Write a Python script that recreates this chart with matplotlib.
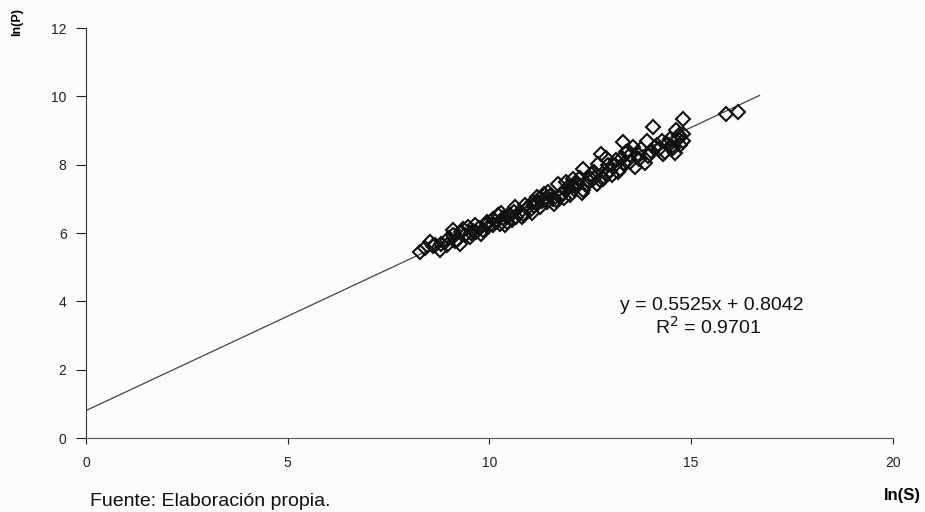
import matplotlib
matplotlib.use("Agg")
import matplotlib.pyplot as plt
import numpy as np

# ln(S), ln(P) pairs
ln_s = [8.28, 8.53, 8.77, 8.65, 8.94, 9.10, 9.31, 9.27, 9.52, 9.68, 9.48, 9.85, 9.93,
        10.09, 10.22, 10.26, 10.43, 10.51, 10.63, 10.67, 10.84, 10.88, 11.00, 11.09,
        11.17, 11.25, 11.42, 11.46, 11.58, 11.71, 11.75, 11.87, 12.00, 12.08, 12.20,
        12.33, 12.33, 12.45, 12.53, 12.66, 12.70, 12.78, 12.82, 12.95, 13.03, 13.15,
        13.23, 13.32, 13.40, 13.48, 13.56, 13.61, 13.69, 13.77, 13.90, 13.94, 14.06,
        14.10, 14.27, 14.31, 14.47, 14.51, 14.64, 14.68, 14.79, 14.80, 14.72, 15.88,
        16.17,
        8.40, 8.80, 9.00, 9.20, 9.40, 9.60, 9.75, 10.00, 10.10, 10.35, 10.55, 10.75,
        10.95, 11.10, 11.30, 11.50, 11.65, 11.80, 11.95, 12.10, 12.25, 12.40, 12.60,
        12.90, 13.10, 13.30, 13.50, 13.85, 14.00, 14.20, 14.40, 14.60, 14.80, 9.10,
        10.30, 11.35, 12.15, 12.90,
        8.60, 8.95, 9.15, 9.35, 9.55, 9.80, 9.95, 10.15, 10.40, 10.60, 10.80, 11.05,
        11.20, 11.40, 11.60, 11.85, 12.05, 12.30, 12.50, 12.75, 13.00, 13.20, 13.45,
        13.70, 14.15, 14.35, 14.55, 14.70, 9.65, 10.45, 11.15, 11.90, 12.60, 13.35]
ln_p = [5.45, 5.74, 5.50, 5.64, 5.79, 5.94, 6.03, 5.69, 5.89, 6.03, 6.18, 6.08, 6.33,
        6.23, 6.52, 6.28, 6.33, 6.52, 6.76, 6.47, 6.57, 6.81, 6.67, 6.91,
        7.06, 6.76, 6.91, 7.20, 7.01, 7.45, 7.06, 7.25, 7.11, 7.59, 7.45,
        7.89, 7.25, 7.54, 7.74, 7.45, 8.03, 8.32, 7.59, 7.98, 7.69, 8.13,
        7.89, 8.66, 8.37, 8.08, 8.52, 7.93, 8.32, 8.47, 8.71, 8.27, 9.10,
        8.52, 8.71, 8.32, 8.76, 8.52, 9.01, 8.76, 9.35, 8.91, 8.57, 9.49,
        9.54,
        5.55, 5.68, 5.85, 5.80, 5.95, 6.05, 6.15, 6.20, 6.40, 6.45, 6.38, 6.62,
        6.75, 6.80, 6.95, 7.10, 6.98, 7.15, 7.35, 7.30, 7.62, 7.40, 7.80,
        7.72, 7.95, 8.20, 8.30, 8.05, 8.40, 8.45, 8.62, 8.35, 8.70, 6.10,
        6.60, 7.15, 7.45, 8.20,
        5.62, 5.66, 5.78, 6.12, 6.00, 5.98, 6.28, 6.35, 6.25, 6.62, 6.48, 6.58,
        6.88, 7.02, 6.86, 7.02, 7.38, 7.18, 7.62, 7.55, 7.82, 7.78, 8.40,
        8.18, 8.58, 8.38, 8.48, 8.88, 6.25, 6.50, 6.92, 7.50, 7.62, 8.05]

slope = 0.5525
intercept = 0.8042
r2 = 0.9701
fit_x = [0, 16.7]

plt.rcParams['font.family'] = ['Liberation Sans', 'DejaVu Sans']

fig = plt.figure(figsize=(9.25, 5.12), dpi=100)
fig.patch.set_facecolor('#fbfbfb')
ax = fig.add_axes([0.093, 0.1445, 0.872, 0.8005])
ax.set_facecolor('#fbfbfb')

fx = np.array(fit_x)
ax.plot(fx, slope * fx + intercept, color='#444444', lw=0.9, zorder=1)
ax.plot(ln_s, ln_p, linestyle='none', marker='D', markersize=7.2,
        markerfacecolor='none', markeredgecolor='#111111', markeredgewidth=1.5, zorder=2)

ax.set_xlim(0, 20)
ax.set_ylim(0, 12)
ax.set_xticks([0, 5, 10, 15, 20])
ax.set_yticks([0, 2, 4, 6, 8, 10, 12])
ax.spines['top'].set_visible(False)
ax.spines['right'].set_visible(False)
ax.spines['left'].set_color('#333333')
ax.spines['bottom'].set_color('#555555')
ax.tick_params(axis='y', direction='out', length=7, width=0.8, labelsize=10, pad=7, colors='#222222')
ax.tick_params(axis='x', direction='out', length=4, width=0.8, labelsize=10, pad=9, colors='#222222')

ax.text(15.51, 3.89, "y = 0.5525x + 0.8042", ha='center', va='center', fontsize=14, color='#111111')
ax.text(15.43, 3.25, "R$^2$ = 0.9701", ha='center', va='center', fontsize=14, color='#111111')

fig.text(0.018, 0.957, "ln(P)", rotation=90, fontsize=9, fontweight='bold', ha='center', va='center')
fig.text(0.976, 0.033, "ln(S)", fontsize=12, fontweight='bold', ha='center', va='center')
fig.text(0.097, 0.02, "Fuente: Elaboración propia.", fontsize=14, ha='left', va='center', color='#111111')

fig.savefig("out.png", dpi=100, facecolor=fig.get_facecolor())
